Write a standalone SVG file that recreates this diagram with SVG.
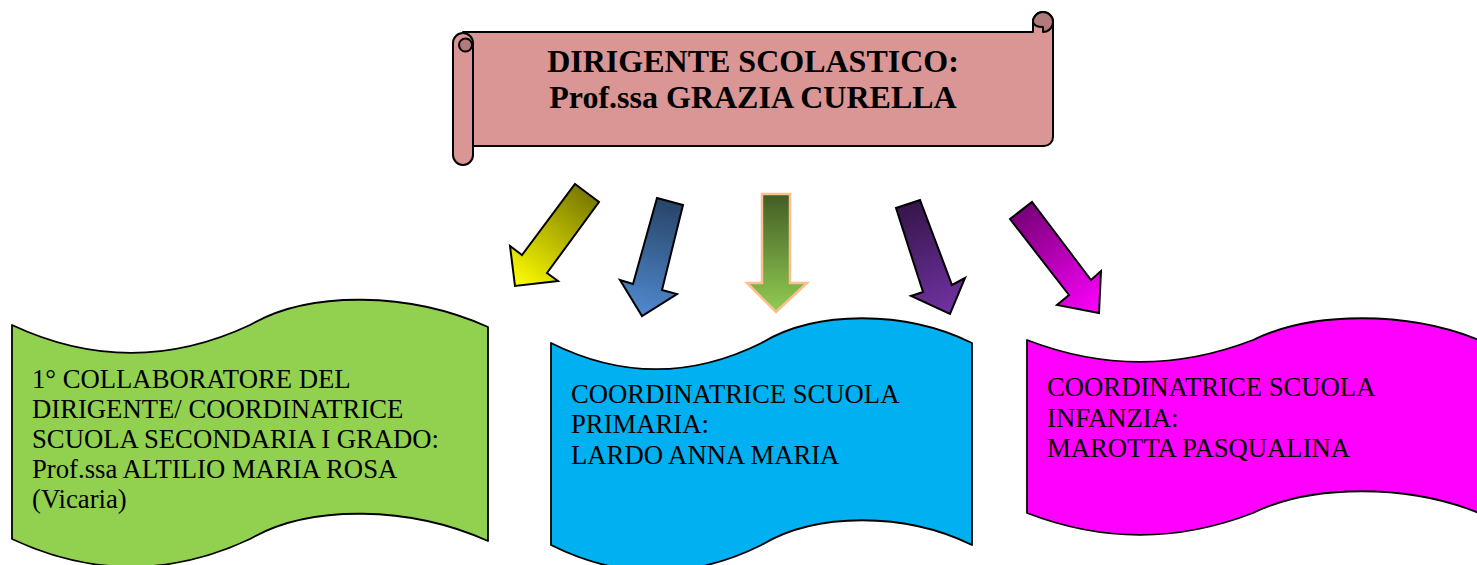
<svg xmlns="http://www.w3.org/2000/svg" width="1477" height="565" viewBox="0 0 1477 565">
<defs>
<style>
.scroll{fill:#D99694;stroke:#000;stroke-width:2;stroke-linejoin:round}
.curl{fill:#B27B79;stroke:#000;stroke-width:2;stroke-linejoin:round}
.wave{stroke:#000;stroke-width:1.8;stroke-linejoin:round}
.arr{stroke:#000;stroke-width:2;stroke-linejoin:miter}
.title{font-family:"Liberation Serif","Times New Roman",serif;font-weight:bold;font-size:32px;fill:#000;text-anchor:middle}
.lbl{font-family:"Liberation Serif","Times New Roman",serif;font-size:26.7px;fill:#000}
</style>
<linearGradient id="gY" gradientUnits="userSpaceOnUse" x1="587" y1="193" x2="515" y2="286"><stop offset="0" stop-color="#7A7A00"/><stop offset="1" stop-color="#FFFF00"/></linearGradient>
<linearGradient id="gB" gradientUnits="userSpaceOnUse" x1="670" y1="201" x2="642" y2="316"><stop offset="0" stop-color="#284468"/><stop offset="1" stop-color="#508AD0"/></linearGradient>
<linearGradient id="gG" gradientUnits="userSpaceOnUse" x1="776" y1="194" x2="776" y2="312"><stop offset="0" stop-color="#425D24"/><stop offset="1" stop-color="#92CC52"/></linearGradient>
<linearGradient id="gP" gradientUnits="userSpaceOnUse" x1="908" y1="204" x2="950" y2="314"><stop offset="0" stop-color="#35164A"/><stop offset="1" stop-color="#7232A4"/></linearGradient>
<linearGradient id="gM" gradientUnits="userSpaceOnUse" x1="1021" y1="210" x2="1099" y2="313"><stop offset="0" stop-color="#780078"/><stop offset="1" stop-color="#FF00FF"/></linearGradient>
</defs>
<rect width="1477" height="565" fill="#fff"/>

<g id="connectors">
<polygon class="arr" fill="url(#gY)" points="575,184 599,202 547,273 558,281 515,286 510,246 522,255"/>
<polygon class="arr" fill="url(#gB)" points="657,198 683,205 662,290 677,294 642,316 620,280 633,284"/>
<polygon fill="url(#gG)" stroke="#FAC090" stroke-width="2.5" points="762,194 790,194 790,283 807,283 776,312 747,283 762,283"/>
<polygon class="arr" fill="url(#gP)" points="896,208 920,200 952,285 965,278 950,314 911,296 923,292"/>
<polygon class="arr" fill="url(#gM)" points="1010,219 1032,202 1091,280 1101,271 1099,313 1057,305 1069,295"/>
</g>

<g id="dirigente">
<path class="scroll" d="M463,32 H1033 V22 A10 10 0 0 1 1053 22 V137 A9 9 0 0 1 1044 146 H463 Z"/>
<path class="curl" d="M1043,32 A10 10 0 1 0 1033 22 Q1034,27 1043,27 Z"/>
<path class="scroll" d="M453,43 A10 10 0 0 1 473 43 V155 A10 10 0 0 1 453 155 Z"/>
<circle class="curl" cx="465.5" cy="45" r="6.5"/>
<text class="title" x="753" y="72">DIRIGENTE SCOLASTICO:</text>
<text class="title" x="753" y="108">Prof.ssa GRAZIA CURELLA</text>
</g>

<g id="collaboratore">
<path class="wave" fill="#92D050" d="M12,325 C91,362 171,362 250,325 C310,290 410,292 488,327 L488,541 C410,506 310,504 250,539 C171,576 91,576 12,539 Z"/>
<text class="lbl" x="32" y="388">1° COLLABORATORE DEL</text>
<text class="lbl" x="32" y="418">DIRIGENTE/ COORDINATRICE</text>
<text class="lbl" x="32" y="448">SCUOLA SECONDARIA I GRADO:</text>
<text class="lbl" x="32" y="478">Prof.ssa ALTILIO MARIA ROSA</text>
<text class="lbl" x="32" y="508">(Vicaria)</text>
</g>

<g id="primaria">
<path class="wave" fill="#00B0F0" d="M551,343 C621,378 691,378 761.5,343 C816,310 905,310 972,343 L972,545 C905,512 816,512 761.5,545 C691,580 621,580 551,545 Z"/>
<text class="lbl" x="571" y="403">COORDINATRICE SCUOLA</text>
<text class="lbl" x="571" y="433">PRIMARIA:</text>
<text class="lbl" x="571" y="464">LARDO ANNA MARIA</text>
</g>

<g id="infanzia">
<path class="wave" fill="#FF00FF" d="M1027,340 C1102,369 1178,369 1253,340 C1312,311 1408,311 1479,340 L1479,513 C1408,484 1312,484 1253,513 C1178,542 1102,542 1027,513 Z"/>
<text class="lbl" x="1047" y="396">COORDINATRICE SCUOLA</text>
<text class="lbl" x="1047" y="427">INFANZIA:</text>
<text class="lbl" x="1047" y="457">MAROTTA PASQUALINA</text>
</g>
</svg>
